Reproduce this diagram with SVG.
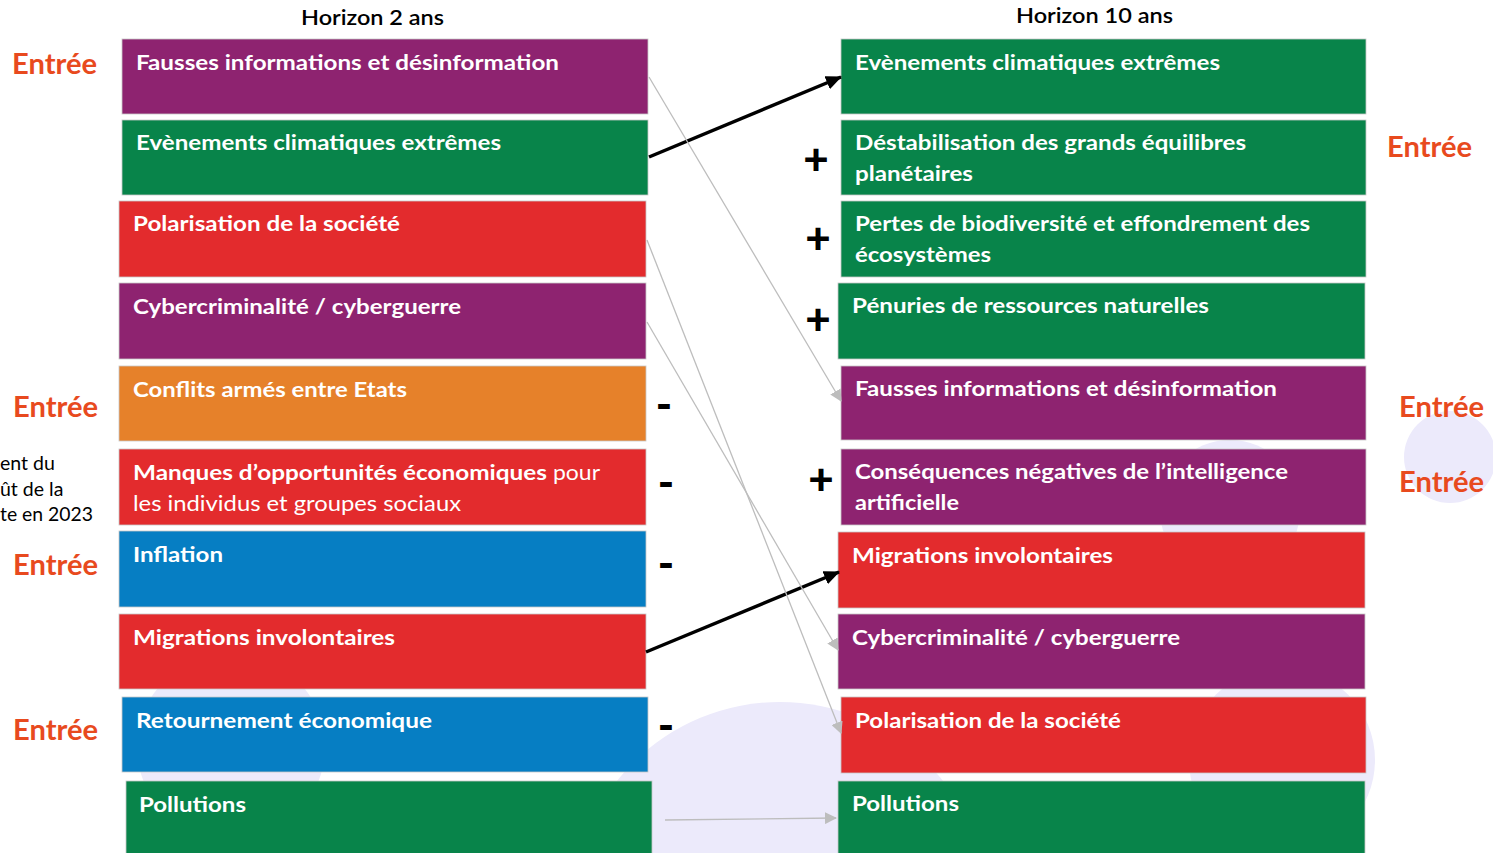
<svg xmlns="http://www.w3.org/2000/svg" width="1493" height="853" viewBox="0 0 1493 853">
<style>
.bg{fill:#ECEAFB}
.box{stroke:#C9C9C9;stroke-width:0.8}
.pur{fill:#8E2370}.grn{fill:#08844A}.red{fill:#E32B2D}.org{fill:#E6812A}.blu{fill:#067EC3}
.t{font-family:Lato,"Open Sans","Liberation Sans",sans-serif;font-size:21px;font-weight:bold;fill:#FFFFFF}
.tr{font-family:Lato,"Open Sans","Liberation Sans",sans-serif;font-size:21px;font-weight:normal;fill:#FFFFFF}
.hd{font-family:Lato,"Open Sans","Liberation Sans",sans-serif;font-size:21px;font-weight:bold;fill:#000000}
.en{font-family:Lato,"Open Sans","Liberation Sans",sans-serif;font-size:29px;font-weight:bold;fill:#E84A1E}
.sg{font-family:Lato,"Liberation Sans",sans-serif;font-weight:900;fill:#000000;text-anchor:middle}
.side{font-family:Lato,"Open Sans","Liberation Sans",sans-serif;font-size:19.5px;fill:#000000}
.blk{stroke:#000000;stroke-width:3.5;fill:none}
.gry{stroke:#BDBDBD;stroke-width:1.3;fill:none}
</style>
<defs>
<marker id="ab" markerUnits="userSpaceOnUse" markerWidth="16" markerHeight="14" refX="15" refY="7" orient="auto"><path d="M0,0 L16,7 L0,14 Z" fill="#000000"/></marker>
<marker id="ag" markerUnits="userSpaceOnUse" markerWidth="12" markerHeight="12" refX="11" refY="6" orient="auto"><path d="M0,0 L12,6 L0,12 Z" fill="#BDBDBD"/></marker>
</defs>
<rect width="1493" height="853" fill="#FFFFFF"/>
<g id="background">
<circle class="bg" cx="780" cy="910" r="208"/>
<circle class="bg" cx="231" cy="747" r="94"/>
<circle class="bg" cx="1450" cy="457" r="46"/>
<circle class="bg" cx="1282" cy="760" r="93"/>
<circle class="bg" cx="1230" cy="510" r="70"/>
</g>
<g id="headers">
<text class="hd" x="301" y="25" textLength="143" lengthAdjust="spacingAndGlyphs" style="font-weight:600">Horizon 2 ans</text>
<text class="hd" x="1016" y="23" textLength="157" lengthAdjust="spacingAndGlyphs" style="font-weight:600">Horizon 10 ans</text>
</g>
<g id="side-text">
<text class="side" x="0" y="470">ent du</text>
<text class="side" x="0" y="496">ût de la</text>
<text class="side" x="0" y="521" textLength="93" lengthAdjust="spacingAndGlyphs">te en 2023</text>
</g>
<g id="entree-labels">
<text class="en" x="12" y="74" textLength="85" lengthAdjust="spacingAndGlyphs">Entrée</text>
<text class="en" x="13" y="417" textLength="85" lengthAdjust="spacingAndGlyphs">Entrée</text>
<text class="en" x="13" y="575" textLength="85" lengthAdjust="spacingAndGlyphs">Entrée</text>
<text class="en" x="13" y="740" textLength="85" lengthAdjust="spacingAndGlyphs">Entrée</text>
<text class="en" x="1387" y="157" textLength="85" lengthAdjust="spacingAndGlyphs">Entrée</text>
<text class="en" x="1399" y="417" textLength="85" lengthAdjust="spacingAndGlyphs">Entrée</text>
<text class="en" x="1399" y="492" textLength="85" lengthAdjust="spacingAndGlyphs">Entrée</text>
</g>
<g id="left-column">
<g id="l1"><rect class="box pur" x="122" y="39" width="526" height="75"/><text class="t" x="136" y="70" textLength="423" lengthAdjust="spacingAndGlyphs">Fausses informations et désinformation</text></g>
<g id="l2"><rect class="box grn" x="122" y="120" width="526" height="75"/><text class="t" x="136" y="150" textLength="365" lengthAdjust="spacingAndGlyphs">Evènements climatiques extrêmes</text></g>
<g id="l3"><rect class="box red" x="119" y="201" width="527" height="76"/><text class="t" x="133" y="231" textLength="267" lengthAdjust="spacingAndGlyphs">Polarisation de la société</text></g>
<g id="l4"><rect class="box pur" x="119" y="283" width="527" height="76"/><text class="t" x="133" y="314" textLength="328" lengthAdjust="spacingAndGlyphs">Cybercriminalité / cyberguerre</text></g>
<g id="l5"><rect class="box org" x="119" y="366" width="527" height="75"/><text class="t" x="133" y="397" textLength="274" lengthAdjust="spacingAndGlyphs">Conflits armés entre Etats</text></g>
<g id="l6"><rect class="box red" x="119" y="449" width="527" height="76"/><text class="t" x="133" y="480" textLength="414" lengthAdjust="spacingAndGlyphs">Manques d’opportunités économiques</text><text class="tr" x="553" y="480" textLength="47" lengthAdjust="spacingAndGlyphs">pour</text><text class="tr" x="133" y="511" textLength="328" lengthAdjust="spacingAndGlyphs">les individus et groupes sociaux</text></g>
<g id="l7"><rect class="box blu" x="119" y="531" width="527" height="76"/><text class="t" x="133" y="562" textLength="90" lengthAdjust="spacingAndGlyphs">Inflation</text></g>
<g id="l8"><rect class="box red" x="119" y="614" width="527" height="75"/><text class="t" x="133" y="645" textLength="262" lengthAdjust="spacingAndGlyphs">Migrations involontaires</text></g>
<g id="l9"><rect class="box blu" x="122" y="697" width="526" height="75"/><text class="t" x="136" y="728" textLength="296" lengthAdjust="spacingAndGlyphs">Retournement économique</text></g>
<g id="l10"><rect class="box grn" x="126" y="781" width="526" height="80"/><text class="t" x="139" y="812" textLength="107" lengthAdjust="spacingAndGlyphs">Pollutions</text></g>
</g>
<g id="right-column">
<g id="r1"><rect class="box grn" x="841" y="39" width="525" height="75"/><text class="t" x="855" y="70" textLength="365" lengthAdjust="spacingAndGlyphs">Evènements climatiques extrêmes</text></g>
<g id="r2"><rect class="box grn" x="841" y="120" width="525" height="75"/><text class="t" x="855" y="150" textLength="391" lengthAdjust="spacingAndGlyphs">Déstabilisation des grands équilibres</text><text class="t" x="855" y="181" textLength="118" lengthAdjust="spacingAndGlyphs">planétaires</text></g>
<g id="r3"><rect class="box grn" x="841" y="201" width="525" height="76"/><text class="t" x="855" y="231" textLength="455" lengthAdjust="spacingAndGlyphs">Pertes de biodiversité et effondrement des</text><text class="t" x="855" y="262" textLength="136" lengthAdjust="spacingAndGlyphs">écosystèmes</text></g>
<g id="r4"><rect class="box grn" x="838" y="283" width="527" height="76"/><text class="t" x="852" y="313" textLength="357" lengthAdjust="spacingAndGlyphs">Pénuries de ressources naturelles</text></g>
<g id="r5"><rect class="box pur" x="841" y="366" width="525" height="74"/><text class="t" x="855" y="396" textLength="422" lengthAdjust="spacingAndGlyphs">Fausses informations et désinformation</text></g>
<g id="r6"><rect class="box pur" x="841" y="449" width="525" height="76"/><text class="t" x="855" y="479" textLength="433" lengthAdjust="spacingAndGlyphs">Conséquences négatives de l’intelligence</text><text class="t" x="855" y="510" textLength="104" lengthAdjust="spacingAndGlyphs">artificielle</text></g>
<g id="r7"><rect class="box red" x="838" y="532" width="527" height="76"/><text class="t" x="852" y="563" textLength="261" lengthAdjust="spacingAndGlyphs">Migrations involontaires</text></g>
<g id="r8"><rect class="box pur" x="838" y="614" width="527" height="75"/><text class="t" x="852" y="645" textLength="328" lengthAdjust="spacingAndGlyphs">Cybercriminalité / cyberguerre</text></g>
<g id="r9"><rect class="box red" x="841" y="697" width="525" height="76"/><text class="t" x="855" y="728" textLength="266" lengthAdjust="spacingAndGlyphs">Polarisation de la société</text></g>
<g id="r10"><rect class="box grn" x="838" y="781" width="527" height="80"/><text class="t" x="852" y="811" textLength="107" lengthAdjust="spacingAndGlyphs">Pollutions</text></g>
</g>
<g id="signs">
<text class="sg" x="816" y="175" font-size="44">+</text>
<text class="sg" x="818" y="254" font-size="44">+</text>
<text class="sg" x="818" y="335" font-size="44">+</text>
<text class="sg" x="821" y="495" font-size="44">+</text>
<text class="sg" x="664" y="420" font-size="44">-</text>
<text class="sg" x="666" y="498" font-size="44">-</text>
<text class="sg" x="666" y="579" font-size="44">-</text>
<text class="sg" x="666" y="741" font-size="44">-</text>
</g>
<g id="connectors">
<line class="blk" x1="649" y1="157" x2="841" y2="77" marker-end="url(#ab)"/>
<line class="blk" x1="646" y1="652" x2="839" y2="572" marker-end="url(#ab)"/>
<line class="gry" x1="649" y1="77" x2="841" y2="401" marker-end="url(#ag)"/>
<line class="gry" x1="647" y1="240" x2="841" y2="733" marker-end="url(#ag)"/>
<line class="gry" x1="647" y1="322" x2="838" y2="650" marker-end="url(#ag)"/>
<line class="gry" x1="665" y1="820" x2="836" y2="818" marker-end="url(#ag)"/>
</g>
</svg>
